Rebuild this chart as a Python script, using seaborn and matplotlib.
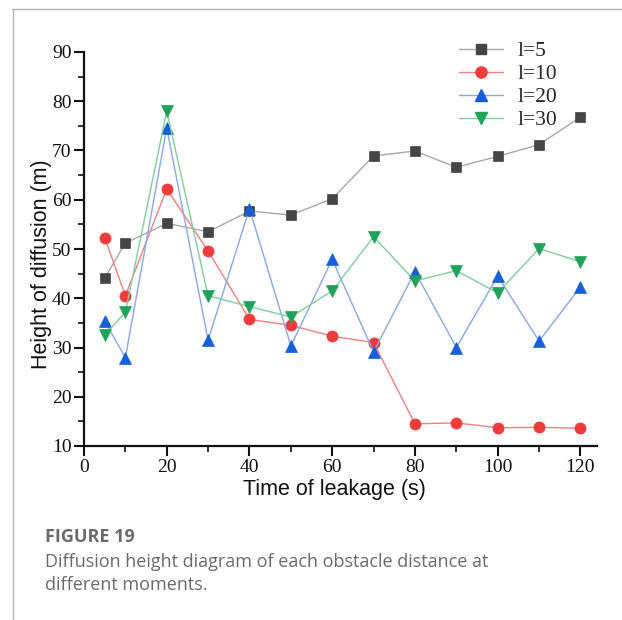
import matplotlib
matplotlib.use("Agg")
import matplotlib.pyplot as plt
from matplotlib.lines import Line2D
from matplotlib.ticker import MultipleLocator
import pandas as pd
import seaborn as sns

# Leakage time (s)
time_s = [5, 10, 20, 30, 40, 50, 60, 70, 80, 90, 100, 110, 120]

# Diffusion height (m) for each obstacle distance l
h_l5 = [44.1, 51.2, 55.2, 53.5, 57.7, 56.9, 60.2, 68.9, 69.9, 66.6, 68.8, 71.2, 76.8]
h_l10 = [52.3, 40.5, 62.2, 49.6, 35.7, 34.5, 32.3, 31.0, 14.5, 14.7, 13.7, 13.8, 13.6]
h_l20 = [35.4, 27.9, 74.6, 31.5, 58.2, 30.3, 47.9, 29.1, 45.4, 30.0, 44.5, 31.3, 42.3]
h_l30 = [32.5, 37.2, 78.0, 40.5, 38.3, 36.2, 41.5, 52.5, 43.5, 45.6, 41.1, 50.1, 47.4]

series_labels = ["l=5", "l=10", "l=20", "l=30"]

df = pd.DataFrame({
    "time": time_s * 4,
    "height": h_l5 + h_l10 + h_l20 + h_l30,
    "series": sum([[s] * len(time_s) for s in series_labels], []),
})

styles = {
    "l=5":  dict(line="#a8a8a8", face="#454545", marker="s", ms=6.5),
    "l=10": dict(line="#f08080", face="#ee3b3b", marker="o", ms=8),
    "l=20": dict(line="#86a8e6", face="#1560d8", marker="^", ms=9),
    "l=30": dict(line="#7fcf9c", face="#1fa35a", marker="v", ms=9),
}

sns.set_style("white")

fig = plt.figure(figsize=(6.22, 6.20), dpi=100)
ax = fig.add_axes([84 / 622, 1 - 446 / 620, (597 - 84) / 622, (446 - 52) / 620])

for name in series_labels:
    st = styles[name]
    sub = df[df["series"] == name]
    sns.lineplot(data=sub, x="time", y="height", ax=ax, color=st["line"],
                 linewidth=1.0, marker=st["marker"], markersize=st["ms"],
                 markerfacecolor=st["face"], markeredgecolor=st["face"],
                 markeredgewidth=0.5, legend=False, estimator=None)

ax.set_xlim(0, 124)
ax.set_ylim(10, 90)
ax.xaxis.set_major_locator(MultipleLocator(20))
ax.xaxis.set_minor_locator(MultipleLocator(10))
ax.yaxis.set_major_locator(MultipleLocator(10))
ax.yaxis.set_minor_locator(MultipleLocator(5))

for side in ("top", "right"):
    ax.spines[side].set_visible(False)
for side in ("left", "bottom"):
    ax.spines[side].set_linewidth(1.6)
    ax.spines[side].set_color("#111111")

ax.tick_params(which="major", direction="out", length=7, width=1.5,
               color="#111111", pad=2, bottom=True, left=True)
ax.tick_params(which="minor", direction="out", length=4, width=1.2,
               color="#111111", bottom=True, left=True)
for lab in ax.get_xticklabels() + ax.get_yticklabels():
    lab.set_fontfamily("Liberation Serif")
    lab.set_fontsize(14)
    lab.set_color("#111111")

ax.set_xlabel("Time of leakage (s)", fontfamily="Liberation Sans",
              fontsize=15.5, color="#111111", va="center")
ax.set_ylabel("Height of diffusion (m)", fontfamily="Liberation Sans",
              fontsize=15.5, color="#111111", va="center")
ax.xaxis.set_label_coords((334 - 84) / 513, (446 - 490) / 394)
ax.yaxis.set_label_coords((42 - 84) / 513, (446 - 264) / 394)

handles = [Line2D([0], [0], color=styles[n]["line"], linewidth=1.0,
                  marker=styles[n]["marker"], markersize=styles[n]["ms"],
                  markerfacecolor=styles[n]["face"],
                  markeredgecolor=styles[n]["face"]) for n in series_labels]
ax.legend(handles, series_labels, loc="upper right",
          bbox_to_anchor=(577 / 622, 1 - 22 / 620), bbox_transform=fig.transFigure,
          frameon=False, handlelength=2.07, handletextpad=0.67, labelspacing=0.13,
          prop={"family": "Liberation Serif", "size": 15.5})

# page frame
fig.add_artist(Line2D([12 / 622, 1.0], [1 - 8.5 / 620, 1 - 8.5 / 620],
                      transform=fig.transFigure, color="#b5b5b5", linewidth=1.0))
fig.add_artist(Line2D([12.5 / 622, 12.5 / 622], [0.0, 1 - 8.5 / 620],
                      transform=fig.transFigure, color="#b5b5b5", linewidth=1.0))

# caption
fig.text(45 / 622, 1 - 537 / 620, "FIGURE 19", fontfamily="Open Sans",
         fontweight="bold", fontsize=13, color="#6a6a6a", va="center")
fig.text(45 / 622, 1 - 562 / 620,
         "Diffusion height diagram of each obstacle distance at",
         fontfamily="Open Sans", fontsize=13, color="#6a6a6a", va="center")
fig.text(45 / 622, 1 - 585 / 620, "different moments.",
         fontfamily="Open Sans", fontsize=13, color="#6a6a6a", va="center")

fig.savefig("out.png", dpi=100, facecolor="white")
